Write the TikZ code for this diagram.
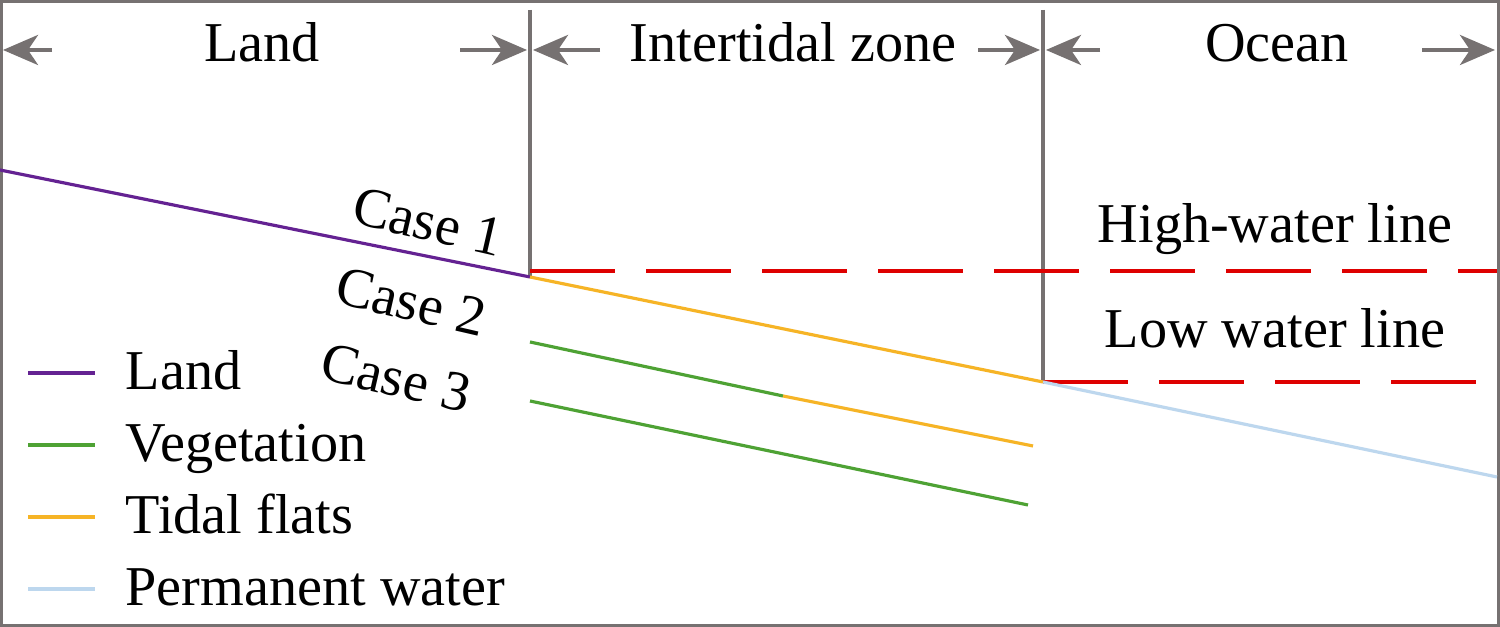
\documentclass[tikz,border=0pt]{standalone}
\usepackage{fontspec}
\setmainfont{Liberation Serif}
\usetikzlibrary{arrows.meta}
\definecolor{framegray}{RGB}{118,113,113}
\definecolor{landpurple}{RGB}{100,34,146}
\definecolor{veggreen}{RGB}{78,162,52}
\definecolor{flatorange}{RGB}{246,180,38}
\definecolor{waterblue}{RGB}{189,215,238}
\definecolor{linered}{RGB}{222,0,0}

\begin{document}
\begin{tikzpicture}[font=\fontsize{16}{19}\selectfont,
	zone/.style = {framegray, line width=1.1pt, -{Stealth[length=3.5mm, width=3mm, inset=1mm]}},
	divider/.style = {framegray, line width=0.9pt},
	waterline/.style = {linered, line width=1pt, dash pattern=on 8.5mm off 3.1mm},
	surface/.style = {line width=0.9pt},
	case/.style = {rotate=-13, inner sep=0pt},
	key/.style = {anchor=base west, inner sep=0pt}]
		\useasboundingbox (0,0) rectangle (15,6.27);
		\fill[white] (0,0) rectangle (15,6.27);
		\draw[framegray, line width=0.03cm] (0.015,0.015) rectangle (14.985,6.255);
		
		\coordinate (shore) at (0,4.57);
		\coordinate (high) at (5.30,3.50);
		\coordinate (low) at (10.43,2.45);
		\coordinate (sea) at (14.97,1.50);
		\coordinate (hightop) at (5.30,6.17);
		\coordinate (lowtop) at (10.43,6.17);
		
		\node[anchor=base] (landlbl) at (2.62,5.65) {Land};
		\node[anchor=base] (tidelbl) at (7.93,5.65) {Intertidal zone};
		\node[anchor=base] (oceanlbl) at (12.77,5.65) {Ocean};
		
		\coordinate (landL) at (0.52,5.77);
		\coordinate (landLt) at (0.03,5.77);
		\coordinate (landR) at (4.60,5.77);
		\coordinate (landRt) at (5.27,5.77);
		\coordinate (tideL) at (6.00,5.77);
		\coordinate (tideLt) at (5.33,5.77);
		\coordinate (tideR) at (9.78,5.77);
		\coordinate (tideRt) at (10.40,5.77);
		\coordinate (oceanL) at (11.00,5.77);
		\coordinate (oceanLt) at (10.46,5.77);
		\coordinate (oceanR) at (14.22,5.77);
		\coordinate (oceanRt) at (14.95,5.77);
		
		\draw[zone] (landL) -- (landLt);
		\draw[zone] (landR) -- (landRt);
		\draw[zone] (tideL) -- (tideLt);
		\draw[zone] (tideR) -- (tideRt);
		\draw[zone] (oceanL) -- (oceanLt);
		\draw[zone] (oceanR) -- (oceanRt);
		
		\draw[divider] (hightop) -- (high);
		\draw[divider] (lowtop) -- (low);
		
		\coordinate (hwstart) at (5.30,3.56);
		\coordinate (hwend) at (14.97,3.56);
		\coordinate (lwend) at (14.76,2.45);
		\draw[waterline] (hwstart) -- (hwend);
		\draw[waterline] (low) -- (lwend);
		\node[anchor=base] (hwlbl) at (12.75,3.84) {High-water line};
		\node[anchor=base] (lwlbl) at (12.75,2.79) {Low water line};
		
		\coordinate (c2start) at (5.30,2.85);
		\coordinate (c2break) at (7.83,2.31);
		\coordinate (c2end) at (10.33,1.81);
		\coordinate (c3start) at (5.30,2.26);
		\coordinate (c3end) at (10.28,1.22);
		
		\draw[surface, landpurple] (shore) -- (high);
		\draw[surface, flatorange] (high) -- (low);
		\draw[surface, waterblue] (low) -- (sea);
		\draw[surface, veggreen] (c2start) -- (c2break);
		\draw[surface, flatorange] (c2break) -- (c2end);
		\draw[surface, veggreen] (c3start) -- (c3end);
		
		\node[case] (case1) at (4.28,4.05) {Case 1};
		\node[case] (case2) at (4.11,3.25) {Case 2};
		\node[case] (case3) at (3.96,2.49) {Case 3};
		
		\node[key] (keyland) at (1.25,2.37) {Land};
		\node[key] (keyveg) at (1.25,1.65) {Vegetation};
		\node[key] (keyflat) at (1.25,0.93) {Tidal flats};
		\node[key] (keywater) at (1.25,0.21) {Permanent water};
		\draw[surface, landpurple] ([xshift=-9.7mm, yshift=1.7mm]keyland.base west) -- ++(0.67,0);
		\draw[surface, veggreen] ([xshift=-9.7mm, yshift=1.7mm]keyveg.base west) -- ++(0.67,0);
		\draw[surface, flatorange] ([xshift=-9.7mm, yshift=1.7mm]keyflat.base west) -- ++(0.67,0);
		\draw[surface, waterblue] ([xshift=-9.7mm, yshift=1.7mm]keywater.base west) -- ++(0.67,0);
	\end{tikzpicture}
\end{document}
